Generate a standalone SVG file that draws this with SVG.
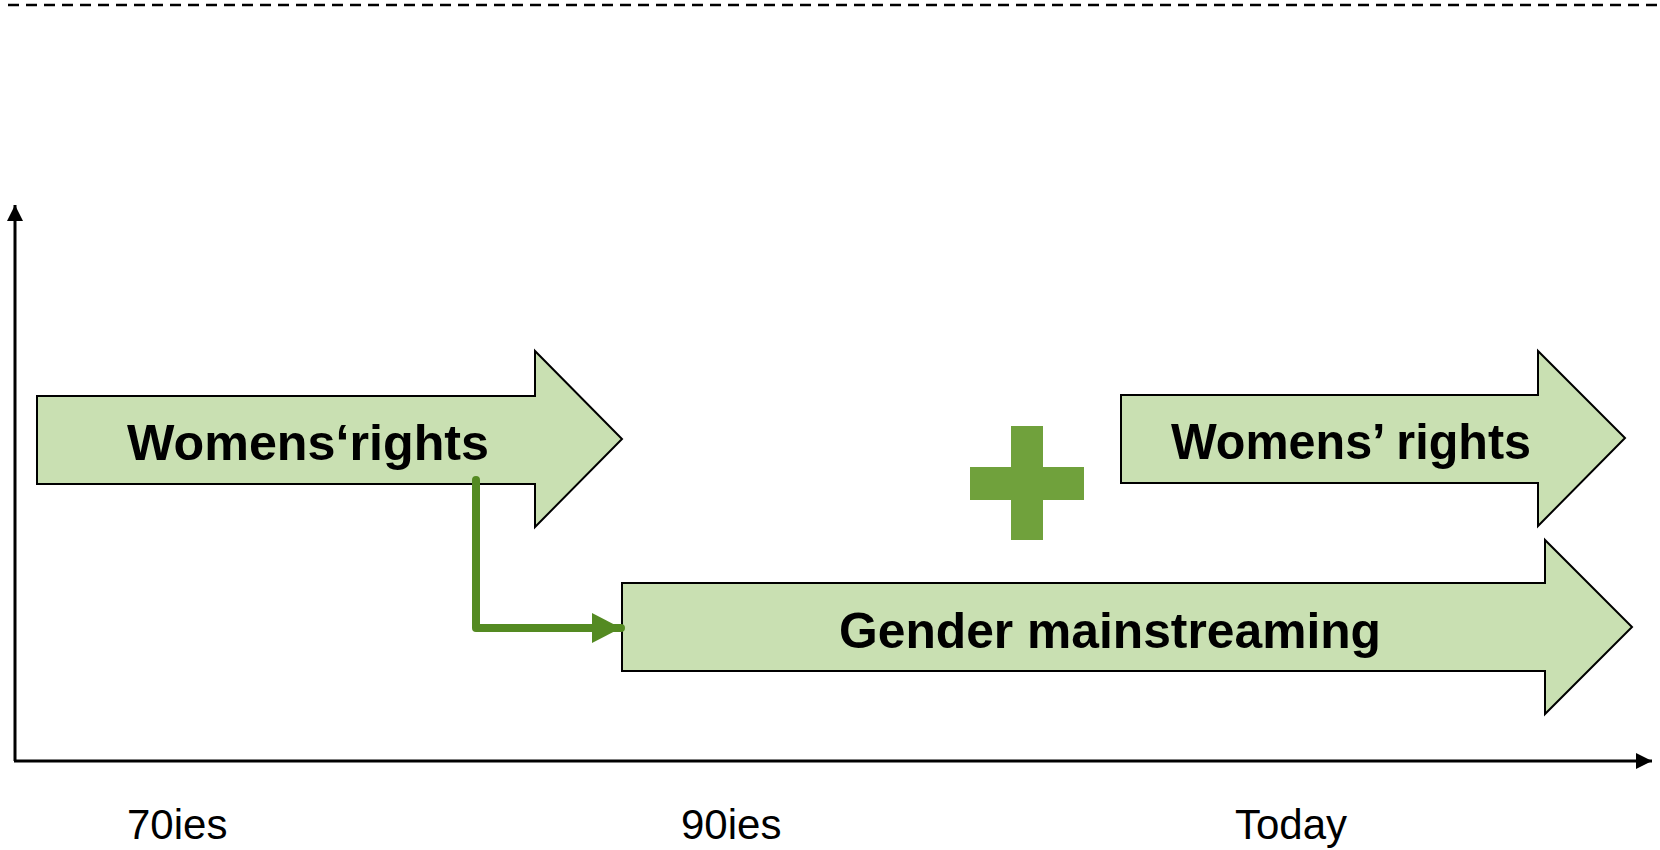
<svg xmlns="http://www.w3.org/2000/svg" width="1660" height="850" viewBox="0 0 1660 850">
<style>
.blk{fill:#c9e0b2;stroke:#000;stroke-width:2;stroke-linejoin:miter}
.lbl{font-family:"Liberation Sans",Arial,sans-serif;font-weight:bold;font-size:50px;fill:#000}
.tick{font-family:"Liberation Sans",Arial,sans-serif;font-size:42px;fill:#000}
.axis{stroke:#000;stroke-width:3;fill:none}
</style>
<defs>
<marker id="axh" markerUnits="userSpaceOnUse" markerWidth="20" markerHeight="20" refX="16" refY="8" orient="auto">
<path d="M0,0 L16,8 L0,16 Z" fill="#000"/>
</marker>
<marker id="gh" markerUnits="userSpaceOnUse" markerWidth="32" markerHeight="32" refX="29" refY="15" orient="auto">
<path d="M0,0 L29,15 L0,30 Z" fill="#548a22"/>
</marker>
</defs>
<line x1="8" y1="5" x2="1660" y2="5" stroke="#000" stroke-width="2.5" stroke-dasharray="11 7"/>
<g id="axes">
<line class="axis" x1="15" y1="761" x2="15" y2="205" marker-end="url(#axh)"/>
<line class="axis" x1="14" y1="761" x2="1652" y2="761" marker-end="url(#axh)"/>
</g>
<g id="arrow-womens-rights-70">
<path class="blk" d="M37,396 L535,396 L535,351 L622,439 L535,527 L535,484 L37,484 Z"/>
<text class="lbl" x="127" y="460" textLength="362" lengthAdjust="spacingAndGlyphs">Womens‘rights</text>
</g>
<g id="arrow-gender-mainstreaming">
<path class="blk" d="M622,583 L1545,583 L1545,540 L1632,627 L1545,714 L1545,671 L622,671 Z"/>
<text class="lbl" x="839" y="648" textLength="542" lengthAdjust="spacingAndGlyphs">Gender mainstreaming</text>
</g>
<g id="arrow-womens-rights-today">
<path class="blk" d="M1121,395 L1538,395 L1538,351 L1625,438 L1538,526 L1538,483 L1121,483 Z"/>
<text class="lbl" x="1171" y="459" textLength="360" lengthAdjust="spacingAndGlyphs">Womens’ rights</text>
</g>
<g id="plus">
<rect x="1011" y="426" width="32" height="114" fill="#70a13c"/>
<rect x="970" y="467" width="114" height="33" fill="#70a13c"/>
</g>
<g id="connectors">
<path d="M476,480 L476,628 L621,628" fill="none" stroke="#548a22" stroke-width="8" stroke-linejoin="round" stroke-linecap="round" marker-end="url(#gh)"/>
</g>
<g id="labels">
<text class="tick" x="127" y="839">70ies</text>
<text class="tick" x="681" y="839">90ies</text>
<text class="tick" x="1235" y="839">Today</text>
</g>
</svg>
